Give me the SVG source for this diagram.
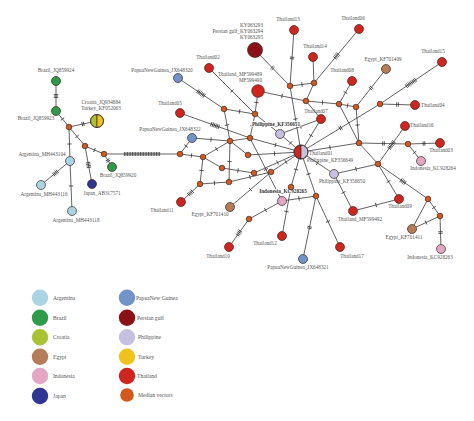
<svg xmlns="http://www.w3.org/2000/svg" width="474" height="421" viewBox="0 0 474 421">
<style>
.e{fill:none;stroke:#3a3a3a;stroke-width:0.8}
.k1{marker-mid:url(#t1)}.k2{marker-mid:url(#t2)}.k3{marker-mid:url(#t3)}.k4{marker-mid:url(#t4)}.k6{marker-mid:url(#t6)}.k8{marker-mid:url(#t8)}.k20{marker-mid:url(#t20)}
circle,.hp{stroke:#3b2a25;stroke-width:0.7}
.m{fill:#d2581c}.th{fill:#d0251e}.ar{fill:#a9d4e3}.br{fill:#2f9a4a}.cr{fill:#a9c233}.eg{fill:#b57c58}.id{fill:#e3a6c3}.jp{fill:#2e3592}.pn{fill:#7093c9}.pg{fill:#8c1116}.ph{fill:#c5bfe0}.tu{fill:#f1c21c}
text{font-family:"Liberation Serif","Times New Roman",serif;font-size:5.2px;fill:#555;text-anchor:middle}
.s{text-anchor:start}.r{text-anchor:end}
.b{font-weight:bold;fill:#333;stroke:#fff;stroke-width:1.4px;paint-order:stroke}
.lg circle{stroke:none}
.lg text{font-size:5.6px;text-anchor:start}
</style>
<defs>
<marker id="t1" markerUnits="userSpaceOnUse" markerWidth="10" markerHeight="10" orient="auto" overflow="visible"><path d="M0,-2.2V2.2" stroke="#333" stroke-width="0.8"/></marker>
<marker id="t2" markerUnits="userSpaceOnUse" markerWidth="10" markerHeight="10" orient="auto" overflow="visible"><path d="M-0.8,-2.2V2.2M0.8,-2.2V2.2" stroke="#333" stroke-width="0.8"/></marker>
<marker id="t3" markerUnits="userSpaceOnUse" markerWidth="10" markerHeight="10" orient="auto" overflow="visible"><path d="M-1.5,-2.2V2.2M0,-2.2V2.2M1.5,-2.2V2.2" stroke="#333" stroke-width="0.8"/></marker>
<marker id="t4" markerUnits="userSpaceOnUse" markerWidth="10" markerHeight="10" orient="auto" overflow="visible"><path d="M-2.4,-2.2V2.2M-0.8,-2.2V2.2M0.8,-2.2V2.2M2.4,-2.2V2.2" stroke="#333" stroke-width="0.8"/></marker>
<marker id="t6" markerUnits="userSpaceOnUse" markerWidth="10" markerHeight="10" orient="auto" overflow="visible"><path d="M-4,-2.2V2.2M-2.4,-2.2V2.2M-0.8,-2.2V2.2M0.8,-2.2V2.2M2.4,-2.2V2.2M4,-2.2V2.2" stroke="#333" stroke-width="0.8"/></marker>
<marker id="t8" markerUnits="userSpaceOnUse" markerWidth="10" markerHeight="10" orient="auto" overflow="visible"><path d="M-5.6,-2.2V2.2M-4,-2.2V2.2M-2.4,-2.2V2.2M-0.8,-2.2V2.2M0.8,-2.2V2.2M2.4,-2.2V2.2M4,-2.2V2.2M5.6,-2.2V2.2" stroke="#333" stroke-width="0.8"/></marker>
<marker id="t20" markerUnits="userSpaceOnUse" markerWidth="10" markerHeight="10" orient="auto" overflow="visible"><path d="M-17.6,-2V2M-16,-2V2M-14.4,-2V2M-12.8,-2V2M-11.2,-2V2M-9.6,-2V2M-8,-2V2M-6.4,-2V2M-4.8,-2V2M-3.2,-2V2M-1.6,-2V2M0,-2V2M1.6,-2V2M3.2,-2V2M4.8,-2V2M6.4,-2V2M8,-2V2M9.6,-2V2M11.2,-2V2M12.8,-2V2M14.4,-2V2M16,-2V2M17.6,-2V2" stroke="#333" stroke-width="0.8"/></marker>
</defs>
<rect width="474" height="421" fill="#fff"/>
<g id="edges">
<path class="e k3" d="M56,81L56,96L56,111"/>
<path class="e k1" d="M56,111L62.5,119L69,127"/>
<path class="e k2" d="M69,127L83,124L97,121"/>
<path class="e k1" d="M69,127L69.5,144L70,161"/>
<path class="e k1" d="M69,127L77,136.5L85,146"/>
<path class="e k1" d="M85,146L94.5,150L104,154"/>
<path class="e k4" d="M85,146L88.5,165L92,184"/>
<path class="e k2" d="M104,154L108,160.5L112,167"/>
<path class="e k4" d="M70,161L55.5,173L41,185"/>
<path class="e k1" d="M70,161L71,186L72,211"/>
<path class="e k20" d="M104,154L142,154L180,154"/>
<path class="e k2" d="M294,30L292,58L290,86"/>
<path class="e k1" d="M290,86L295.5,119L301,152"/>
<path class="e k2" d="M255,50L272.5,68L290,86"/>
<path class="e k1" d="M290,86L302,84.5L314,83"/>
<path class="e" d="M313,57L314,83"/>
<path class="e k4" d="M359,29L336.5,56L314,83"/>
<path class="e" d="M314,83L306,101"/>
<path class="e k1" d="M306,101L322.5,102.5L339,104"/>
<path class="e k1" d="M258,91L282,96L306,101"/>
<path class="e k1" d="M339,104L345.5,92.5L352,81"/>
<path class="e" d="M339,104L359,143"/>
<path class="e k1" d="M356,107L357.5,125L359,143"/>
<path class="e k2" d="M356,107L371,88L386,69"/>
<path class="e k1" d="M339,104L347.5,105.5L356,107"/>
<path class="e k2" d="M301,152L340.5,128L380,104"/>
<path class="e k8" d="M380,104L411,83L442,62"/>
<path class="e k2" d="M380,104L397.5,104.5L415,105"/>
<path class="e k1" d="M301,152L330,147.5L359,143"/>
<path class="e k2" d="M359,143L383.5,143.5L408,144"/>
<path class="e k2" d="M408,144L424,143.5L440,143"/>
<path class="e k1" d="M408,144L414.5,152.5L421,161"/>
<path class="e k6" d="M405,126L391.5,145L378,164"/>
<path class="e" d="M359,143L378,164"/>
<path class="e k1" d="M378,164L388.5,181.5L399,199"/>
<path class="e k4" d="M378,164L403,181.5L428,199"/>
<path class="e k1" d="M378,164L356,169L334,174"/>
<path class="e k1" d="M301,152L317.5,163L334,174"/>
<path class="e k1" d="M334,174L343.5,192.5L353,211"/>
<path class="e k1" d="M353,211L376,205L399,199"/>
<path class="e" d="M428,199L412,229"/>
<path class="e k1" d="M428,199L434,207.5L440,216"/>
<path class="e k1" d="M440,216L426,222.5L412,229"/>
<path class="e k2" d="M440,216L440.5,232.5L441,249"/>
<path class="e k1" d="M301,152L308.5,174L316,196"/>
<path class="e k1" d="M316,196L328,221.5L340,247"/>
<path class="e k2" d="M316,196L309.5,227.5L303,259"/>
<path class="e k1" d="M316,196L299,198.5L282,201"/>
<path class="e k1" d="M301,152L296,169.5L291,187"/>
<path class="e k1" d="M291,187L286.5,211.5L282,236"/>
<path class="e k1" d="M282,201L265.5,210L249,219"/>
<path class="e k4" d="M249,219L239,233L229,247"/>
<path class="e k1" d="M250,138L266,169.5L282,201"/>
<path class="e k1" d="M301,152L286,162L271,172"/>
<path class="e k1" d="M301,152L277.5,162.5L254,173"/>
<path class="e k1" d="M271,172L250.5,189.5L230,207"/>
<path class="e k1" d="M222,168L238,170.5L254,173"/>
<path class="e k1" d="M229,182L250,177L271,172"/>
<path class="e k1" d="M200,184L214.5,183L229,182"/>
<path class="e k4" d="M200,184L190.5,193L181,202"/>
<path class="e k1" d="M203,157L201.5,170.5L200,184"/>
<path class="e" d="M203,157L222,168"/>
<path class="e k1" d="M180,154L191.5,155.5L203,157"/>
<path class="e k1" d="M192,138L186,146L180,154"/>
<path class="e k1" d="M192,138L211,139.5L230,141"/>
<path class="e k1" d="M230,141L216.5,149L203,157"/>
<path class="e" d="M230,141L250,138"/>
<path class="e k1" d="M230,141L229.5,161.5L229,182"/>
<path class="e k1" d="M248,155L274.5,153.5L301,152"/>
<path class="e" d="M230,141L248,155"/>
<path class="e k1" d="M250,138L275.5,145L301,152"/>
<path class="e k6" d="M180,113L215,125.5L250,138"/>
<path class="e k1" d="M224,109L227,125L230,141"/>
<path class="e k6" d="M178,78L201,93.5L224,109"/>
<path class="e k1" d="M224,109L239.5,111.5L255,114"/>
<path class="e k1" d="M209,68L232,91L255,114"/>
<path class="e k1" d="M255,114L252.5,126L250,138"/>
<path class="e k1" d="M258,91L256.5,102.5L255,114"/>
<path class="e k1" d="M280,134L290.5,143L301,152"/>
<path class="e k1" d="M280,134L300.5,126.5L321,119"/>
<path class="e" d="M321,119L306,101"/>
<path class="e k1" d="M321,119L311,135.5L301,152"/>
<path class="e" d="M255,114L280,134"/>
</g>
<g id="n-br924"><circle class="br" cx="56" cy="81" r="4.5"/><text x="56" y="72">Brazil_JQ859924</text></g>
<g id="n-br923"><circle class="br" cx="56" cy="111" r="4.5"/><text x="36" y="120">Brazil_JQ859923</text></g>
<g id="n-crtu"><path class="cr hp" d="M97,114.5A6.5,6.5 0 0 0 97,127.5Z"/><path class="tu hp" d="M97,114.5A6.5,6.5 0 0 1 97,127.5Z"/><circle cx="97" cy="121" r="6.5" fill="none"/><text x="101" y="103.5">Croatia_JQ934884</text><text x="101" y="110">Turkey_KF052063</text></g>
<g id="n-ar104"><circle class="ar" cx="70" cy="161" r="4.5"/><text x="42" y="156">Argentina_MH443104</text></g>
<g id="n-ar116"><circle class="ar" cx="41" cy="185" r="4.5"/><text x="44" y="196">Argentina_MH443116</text></g>
<g id="n-ar118"><circle class="ar" cx="72" cy="211" r="4.5"/><text x="76" y="222">Argentina_MH443118</text></g>
<g id="n-jp"><circle class="jp" cx="92" cy="184" r="4.5"/><text x="102" y="195">Japan_AB317571</text></g>
<g id="n-br920"><circle class="br" cx="112" cy="167" r="4.5"/><text x="118" y="177">Brazil_JQ859920</text></g>
<g id="n-th13"><circle class="th" cx="294" cy="30" r="4.5"/><text x="288" y="21">Thailand13</text></g>
<g id="n-pg"><circle class="pg" cx="255" cy="50" r="7.5"/><text class="r" x="263" y="26.5">KY063293</text><text class="r" x="263" y="32.5">Persian gulf_KY063294</text><text class="r" x="263" y="38.5">KY063295</text></g>
<g id="n-th14"><circle class="th" cx="313" cy="57" r="4.5"/><text x="315" y="48">Thailand14</text></g>
<g id="n-th02"><circle class="th" cx="209" cy="68" r="4.5"/><text x="208" y="59">Thailand02</text></g>
<g id="n-png320"><circle class="pn" cx="178" cy="78" r="4.5"/><text x="162" y="72">PapuaNewGuinea_JX648320</text></g>
<g id="n-thmf489"><circle class="th" cx="258" cy="91" r="6.3"/><text class="r" x="262" y="75.5">Thailand_MF599489</text><text class="r" x="262" y="82">MF599490</text></g>
<g id="n-th05"><circle class="th" cx="180" cy="113" r="4.5"/><text x="170" y="105">Thailand05</text></g>
<g id="n-png322"><circle class="pn" cx="192" cy="138" r="4.5"/><text x="170" y="131">PapuaNewGuinea_JX648322</text></g>
<g id="n-ph651"><circle class="ph" cx="280" cy="134" r="4.5"/><text class="b" x="276" y="125.5">Philippine_KF356651</text></g>
<g id="n-th07"><circle class="th" cx="321" cy="119" r="4.5"/><text x="316" y="113">Thailand07</text></g>
<g id="n-th06"><circle class="th" cx="359" cy="29" r="4.5"/><text x="353" y="20">Thailand06</text></g>
<g id="n-egy409"><circle class="eg" cx="386" cy="69" r="4.5"/><text x="383" y="61">Egypt_KF701409</text></g>
<g id="n-th15"><circle class="th" cx="442" cy="62" r="4.5"/><text x="433" y="53">Thailand15</text></g>
<g id="n-th08"><circle class="th" cx="352" cy="81" r="4.5"/><text x="342" y="72">Thailand08</text></g>
<g id="n-th04"><circle class="th" cx="415" cy="105" r="4.5"/><text class="s" x="421" y="107">Thailand04</text></g>
<g id="n-th16"><circle class="th" cx="405" cy="126" r="4.5"/><text class="s" x="410" y="127">Thailand16</text></g>
<g id="n-th03"><circle class="th" cx="440" cy="143" r="4.5"/><text x="441" y="152">Thailand03</text></g>
<g id="n-indo264"><circle class="id" cx="421" cy="161" r="4.5"/><text x="433" y="170">Indonesia_KC928264</text></g>
<g id="n-ph650"><circle class="ph" cx="334" cy="174" r="4.5"/><text x="342" y="183">Philippine_KF356650</text></g>
<g id="n-th09"><circle class="th" cx="399" cy="199" r="4.5"/><text x="400" y="208">Thailand09</text></g>
<g id="n-thmf492"><circle class="th" cx="353" cy="211" r="4.5"/><text x="360" y="221">Thailand_MF599492</text></g>
<g id="n-egy411"><circle class="eg" cx="412" cy="229" r="4.5"/><text x="404" y="239">Egypt_KF701411</text></g>
<g id="n-indo263"><circle class="id" cx="441" cy="249" r="4.5"/><text x="430" y="259">Indonesia_KC928263</text></g>
<g id="n-th17"><circle class="th" cx="340" cy="247" r="4.5"/><text x="352" y="258">Thailand17</text></g>
<g id="n-th11"><circle class="th" cx="181" cy="202" r="4.5"/><text x="162" y="212">Thailand11</text></g>
<g id="n-egy410"><circle class="eg" cx="230" cy="207" r="4.5"/><text x="210" y="216">Egypt_KF701410</text></g>
<g id="n-indo265"><circle class="id" cx="282" cy="201" r="4.5"/><text class="b" x="283" y="193">Indonesia_KC928265</text></g>
<g id="n-th12"><circle class="th" cx="282" cy="236" r="4.5"/><text x="265" y="245">Thailand12</text></g>
<g id="n-th10"><circle class="th" cx="229" cy="247" r="4.5"/><text x="218" y="258">Thailand10</text></g>
<g id="n-png321"><circle class="pn" cx="303" cy="259" r="4.5"/><text x="298" y="269">PapuaNewGuinea_JX648321</text></g>
<g id="n-th01"><path class="th hp" d="M301,145A7,7 0 0 0 301,159Z"/><path class="ph hp" d="M301,145A7,7 0 0 1 301,159Z"/><circle cx="301" cy="152" r="7" fill="none"/><text class="s" x="309" y="154.5">Thailand01</text><text class="s" x="307" y="161.5">Philippine_KF356649</text></g>
<g id="medians">
<circle class="m" cx="69" cy="127" r="2.8"/><circle class="m" cx="85" cy="146" r="2.8"/><circle class="m" cx="104" cy="154" r="2.8"/>
<circle class="m" cx="290" cy="86" r="2.8"/><circle class="m" cx="314" cy="83" r="2.8"/><circle class="m" cx="306" cy="101" r="2.8"/>
<circle class="m" cx="224" cy="109" r="2.8"/><circle class="m" cx="255" cy="114" r="2.8"/><circle class="m" cx="250" cy="138" r="2.8"/><circle class="m" cx="230" cy="141" r="2.8"/>
<circle class="m" cx="339" cy="104" r="2.8"/><circle class="m" cx="356" cy="107" r="2.8"/><circle class="m" cx="380" cy="104" r="2.8"/>
<circle class="m" cx="359" cy="143" r="2.8"/><circle class="m" cx="408" cy="144" r="2.8"/><circle class="m" cx="378" cy="164" r="2.8"/>
<circle class="m" cx="428" cy="199" r="2.8"/><circle class="m" cx="440" cy="216" r="2.8"/><circle class="m" cx="316" cy="196" r="2.8"/>
<circle class="m" cx="180" cy="154" r="2.8"/><circle class="m" cx="203" cy="157" r="2.8"/><circle class="m" cx="248" cy="155" r="2.8"/>
<circle class="m" cx="222" cy="168" r="2.8"/><circle class="m" cx="254" cy="173" r="2.8"/><circle class="m" cx="271" cy="172" r="2.8"/>
<circle class="m" cx="200" cy="184" r="2.8"/><circle class="m" cx="229" cy="182" r="2.8"/><circle class="m" cx="291" cy="187" r="2.8"/><circle class="m" cx="249" cy="219" r="2.8"/>
</g>
<g id="legend" class="lg">
<circle class="ar" cx="40" cy="297.7" r="8.2"/><text x="53" y="299.7">Argentina</text>
<circle class="br" cx="40" cy="317.7" r="8.2"/><text x="53" y="319.7">Brazil</text>
<circle class="cr" cx="40" cy="337.3" r="8.2"/><text x="53" y="339.3">Croatia</text>
<circle class="eg" cx="40" cy="356.7" r="8.2"/><text x="53" y="358.7">Egypt</text>
<circle class="id" cx="40" cy="376" r="8.2"/><text x="53" y="378">Indonesia</text>
<circle class="jp" cx="40" cy="396" r="8.2"/><text x="53" y="398">Japan</text>
<circle class="pn" cx="127" cy="297.7" r="8.2"/><text x="136" y="299.7">PapuaNew Guinea</text>
<circle class="pg" cx="127" cy="317.7" r="8.2"/><text x="137" y="319.7">Persian gulf</text>
<circle class="ph" cx="127" cy="337.3" r="8.2"/><text x="138" y="339.3">Philippine</text>
<circle class="tu" cx="127" cy="356.7" r="8.2"/><text x="138" y="358.7">Turkey</text>
<circle class="th" cx="127" cy="376" r="8.2"/><text x="137" y="378">Thailand</text>
<circle class="m" cx="127" cy="395" r="6.8"/><text x="138" y="397">Median vectors</text>
</g>
</svg>
